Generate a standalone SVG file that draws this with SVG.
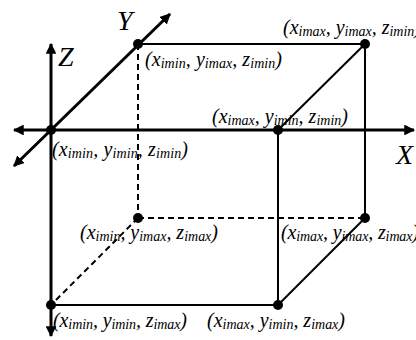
<svg xmlns="http://www.w3.org/2000/svg" width="416" height="340" viewBox="0 0 416 340">
<defs>
<marker id="ah" viewBox="0 0 10 10" refX="9" refY="5" markerWidth="3.6" markerHeight="3.6" orient="auto-start-reverse" markerUnits="strokeWidth">
<path d="M0,0 L10,5 L0,10 z" fill="#000"/>
</marker>
<style>
.axis{stroke:#000;stroke-width:3;fill:none}
.edge{stroke:#000;stroke-width:2;fill:none}
.dash{stroke:#000;stroke-width:2;fill:none;stroke-dasharray:6 4}
.dot{fill:#000}
.lbl{font-family:"Liberation Serif","DejaVu Serif",serif;font-style:italic;font-size:20px;fill:#000}
.s{font-size:14px}
.ax{font-family:"Liberation Serif","DejaVu Serif",serif;font-style:italic;font-size:28px;fill:#000}
</style>
</defs>
<rect width="416" height="340" fill="#fff"/>
<g id="connectors">
<line class="axis" x1="14" y1="130" x2="414" y2="130" marker-start="url(#ah)" marker-end="url(#ah)"/>
<line class="axis" x1="51" y1="44" x2="51" y2="336" marker-start="url(#ah)" marker-end="url(#ah)"/>
<line class="axis" x1="14" y1="166" x2="170" y2="14" marker-start="url(#ah)" marker-end="url(#ah)"/>
<line class="edge" x1="138" y1="44" x2="365" y2="44"/>
<line class="edge" x1="365" y1="44" x2="278" y2="130"/>
<line class="edge" x1="365" y1="44" x2="365" y2="218"/>
<line class="edge" x1="278" y1="130" x2="278" y2="305"/>
<line class="edge" x1="365" y1="218" x2="278" y2="305"/>
<line class="edge" x1="51" y1="305" x2="278" y2="305"/>
<line class="dash" x1="138" y1="44" x2="138" y2="218"/>
<line class="dash" x1="138" y1="218" x2="365" y2="218"/>
<line class="dash" x1="138" y1="218" x2="51" y2="305"/>
</g>
<g id="axis-labels">
<text class="ax" x="117" y="30">Y</text>
<text class="ax" x="58" y="66">Z</text>
<text class="ax" x="396" y="164">X</text>
</g>
<g id="n-xmin-ymin-zmin">
<circle class="dot" cx="51" cy="130" r="5"/>
<text class="lbl" x="52" y="156" textLength="136">(x<tspan class="s" dy="2">imin</tspan><tspan dy="-2">, y</tspan><tspan class="s" dy="2">imin</tspan><tspan dy="-2">, z</tspan><tspan class="s" dy="2">imin</tspan><tspan dy="-2">)</tspan></text>
</g>
<g id="n-xmin-ymax-zmin">
<circle class="dot" cx="138" cy="44" r="5"/>
<text class="lbl" x="145" y="66" textLength="137">(x<tspan class="s" dy="2">imin</tspan><tspan dy="-2">, y</tspan><tspan class="s" dy="2">imax</tspan><tspan dy="-2">, z</tspan><tspan class="s" dy="2">imin</tspan><tspan dy="-2">)</tspan></text>
</g>
<g id="n-xmax-ymax-zmin">
<circle class="dot" cx="365" cy="44" r="5"/>
<text class="lbl" x="283" y="34" textLength="138">(x<tspan class="s" dy="2">imax</tspan><tspan dy="-2">, y</tspan><tspan class="s" dy="2">imax</tspan><tspan dy="-2">, z</tspan><tspan class="s" dy="2">imin</tspan><tspan dy="-2">)</tspan></text>
</g>
<g id="n-xmax-ymin-zmin">
<circle class="dot" cx="278" cy="130" r="5"/>
<text class="lbl" x="212" y="123" textLength="136">(x<tspan class="s" dy="2">imax</tspan><tspan dy="-2">, y</tspan><tspan class="s" dy="2">imin</tspan><tspan dy="-2">, z</tspan><tspan class="s" dy="2">imin</tspan><tspan dy="-2">)</tspan></text>
</g>
<g id="n-xmin-ymax-zmax">
<circle class="dot" cx="138" cy="218" r="5"/>
<text class="lbl" x="80" y="239" textLength="138">(x<tspan class="s" dy="2">imin</tspan><tspan dy="-2">, y</tspan><tspan class="s" dy="2">imax</tspan><tspan dy="-2">, z</tspan><tspan class="s" dy="2">imax</tspan><tspan dy="-2">)</tspan></text>
</g>
<g id="n-xmax-ymax-zmax">
<circle class="dot" cx="365" cy="218" r="5"/>
<text class="lbl" x="281" y="239" textLength="138">(x<tspan class="s" dy="2">imax</tspan><tspan dy="-2">, y</tspan><tspan class="s" dy="2">imax</tspan><tspan dy="-2">, z</tspan><tspan class="s" dy="2">imax</tspan><tspan dy="-2">)</tspan></text>
</g>
<g id="n-xmin-ymin-zmax">
<circle class="dot" cx="51" cy="305" r="5"/>
<text class="lbl" x="53" y="327" textLength="134">(x<tspan class="s" dy="2">imin</tspan><tspan dy="-2">, y</tspan><tspan class="s" dy="2">imin</tspan><tspan dy="-2">, z</tspan><tspan class="s" dy="2">imax</tspan><tspan dy="-2">)</tspan></text>
</g>
<g id="n-xmax-ymin-zmax">
<circle class="dot" cx="278" cy="305" r="5"/>
<text class="lbl" x="207" y="327" textLength="138">(x<tspan class="s" dy="2">imax</tspan><tspan dy="-2">, y</tspan><tspan class="s" dy="2">imin</tspan><tspan dy="-2">, z</tspan><tspan class="s" dy="2">imax</tspan><tspan dy="-2">)</tspan></text>
</g>
</svg>
